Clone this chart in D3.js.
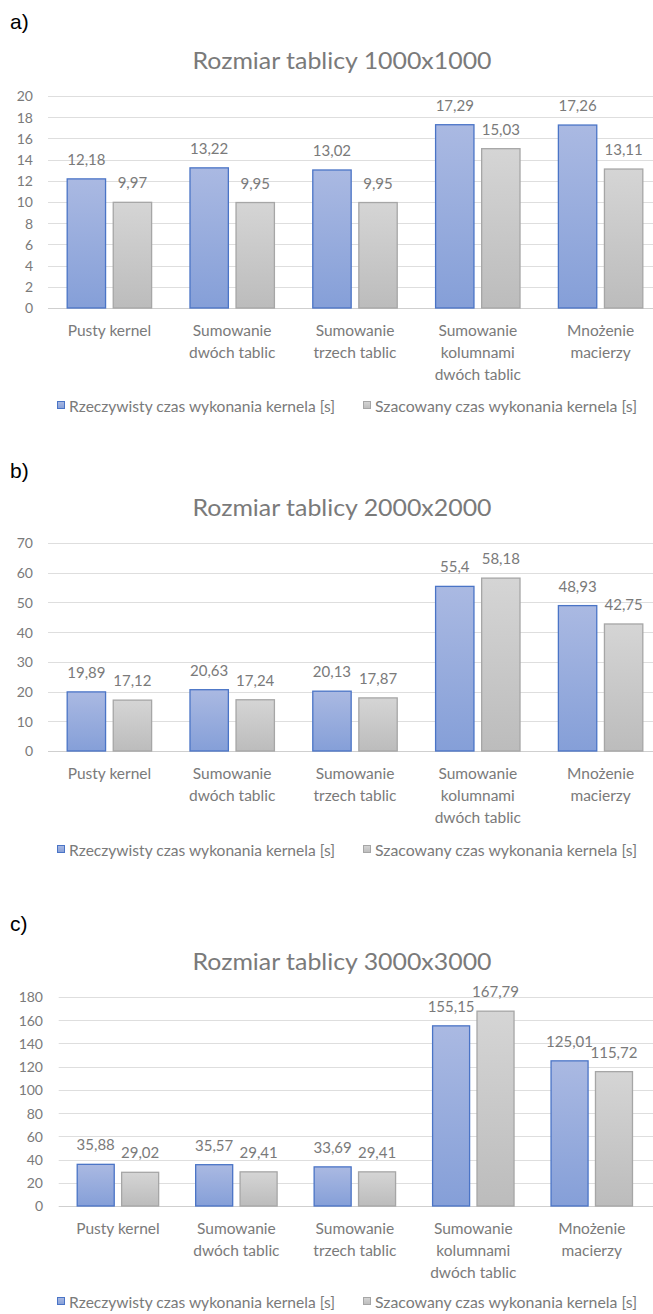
<!DOCTYPE html>
<html>
<head>
<meta charset="utf-8">
<script src="https://cdn.jsdelivr.net/npm/d3@7"></script>
<style>
  html, body { margin: 0; padding: 0; background: #fff; }
  svg { display: block; }
  .lbl { font-family: Lato, "Open Sans", sans-serif; fill: #7a7a7a; }
  .panel { font-family: "Liberation Sans Narrow", "Liberation Sans", Arial, sans-serif; fill: #000; }
</style>
</head>
<body>
<svg id="chart" width="653" height="1314"></svg>
<script>
// Kernel names (one line per array entry in the axis label)
const categories = [
  "Pusty kernel",
  "Sumowanie\ndwóch tablic",
  "Sumowanie\ntrzech tablic",
  "Sumowanie\nkolumnami\ndwóch tablic",
  "Mnożenie\nmacierzy"
];
const seriesNames = [
  "Rzeczywisty czas wykonania kernela [s]",
  "Szacowany czas wykonania kernela [s]"
];
const panelLetters = ["a)", "b)", "c)"];
const chartTitles = [
  "Rozmiar tablicy 1000x1000",
  "Rozmiar tablicy 2000x2000",
  "Rozmiar tablicy 3000x3000"
];

// Measured vs. estimated kernel times [s]
const real1000 = [12.18, 13.22, 13.02, 17.29, 17.26];
const est1000  = [9.97, 9.95, 9.95, 15.03, 13.11];
const real2000 = [19.89, 20.63, 20.13, 55.4, 48.93];
const est2000  = [17.12, 17.24, 17.87, 58.18, 42.75];
const real3000 = [35.88, 35.57, 33.69, 155.15, 125.01];
const est3000  = [29.02, 29.41, 29.41, 167.79, 115.72];

// Value axis ticks for each panel
const ticks1000 = [0, 2, 4, 6, 8, 10, 12, 14, 16, 18, 20];
const ticks2000 = [0, 10, 20, 30, 40, 50, 60, 70];
const ticks3000 = [0, 20, 40, 60, 80, 100, 120, 140, 160, 180];

const svg = d3.select("#chart");
const fmt = v => String(v).replace(".", ",");

// Vertical gradients for the two series
const defs = svg.append("defs");
function grad(id, top, bottom) {
  const g = defs.append("linearGradient").attr("id", id)
    .attr("x1", 0).attr("y1", 0).attr("x2", 0).attr("y2", 1);
  g.append("stop").attr("offset", "0%").attr("stop-color", top);
  g.append("stop").attr("offset", "100%").attr("stop-color", bottom);
}
grad("gBlue", "#aab9e2", "#859fd8");
grad("gGray", "#d5d5d5", "#bcbcbc");
const fills = ["url(#gBlue)", "url(#gGray)"];
const strokes = ["#4a74c6", "#a6a6a6"];

const panels = [
  { real: real1000, est: est1000, ticks: ticks1000, top: 0,   left: 48,   right: 662, yTop: 96,  yBot: 308,  tickX: 33, legDy: 104 },
  { real: real2000, est: est2000, ticks: ticks2000, top: 449, left: 48,   right: 662, yTop: 543, yBot: 751,  tickX: 33, legDy: 105 },
  { real: real3000, est: est3000, ticks: ticks3000, top: 902, left: 58.7, right: 651, yTop: 997, yBot: 1206, tickX: 43, legDy: 102 }
];

panels.forEach((p, i) => {
  const g = svg.append("g");

  // Panel letter and chart title
  g.append("text").attr("class", "panel")
    .attr("x", 10).attr("y", p.top + 29)
    .attr("font-size", 21).text(panelLetters[i]);
  g.append("text").attr("class", "lbl")
    .attr("x", 342).attr("y", p.yTop - 27)
    .attr("text-anchor", "middle").attr("font-size", 23)
    .attr("textLength", 299).attr("lengthAdjust", "spacingAndGlyphs")
    .text(chartTitles[i]);

  const y = d3.scaleLinear()
    .domain([0, d3.max(p.ticks)])
    .range([p.yBot, p.yTop]);

  const x0 = d3.scaleBand().domain(categories).range([p.left, p.right]).padding(0);
  const x1 = d3.scaleBand().domain(seriesNames)
    .range([0, x0.bandwidth()])
    .paddingInner(1 / 6).paddingOuter(5 / 12);

  // Tick labels
  const yAxis = d3.axisLeft(y).tickValues(p.ticks).tickSize(0).tickPadding(0);
  const ax = g.append("g").attr("transform", `translate(${p.tickX},0)`).call(yAxis);
  ax.select(".domain").remove();
  ax.selectAll("text").attr("class", "lbl").attr("font-size", 14)
    .attr("fill", null).attr("dy", "0.35em");
  ax.attr("font-family", null).attr("font-size", null);

  // Gridlines
  g.append("g").selectAll("line").data(p.ticks).join("line")
    .attr("x1", p.left).attr("x2", 653)
    .attr("y1", d => Math.round(y(d)) + 0.5).attr("y2", d => Math.round(y(d)) + 0.5)
    .attr("stroke", d => d === 0 ? "#cfcfcf" : "#dedede").attr("stroke-width", 1);

  // Bars
  const rows = categories.map((c, k) => [
    { cat: c, s: 0, v: p.real[k] },
    { cat: c, s: 1, v: p.est[k] }
  ]).flat();

  g.append("g").selectAll("rect").data(rows).join("rect")
    .attr("x", d => x0(d.cat) + x1(seriesNames[d.s]))
    .attr("y", d => y(d.v))
    .attr("width", x1.bandwidth())
    .attr("height", d => y(0) - y(d.v))
    .attr("fill", d => fills[d.s])
    .attr("stroke", d => strokes[d.s])
    .attr("stroke-width", 1.3);

  // Value labels
  g.append("g").selectAll("text").data(rows).join("text")
    .attr("class", "lbl")
    .attr("x", d => x0(d.cat) + x1(seriesNames[d.s]) + x1.bandwidth() / 2)
    .attr("y", d => y(d.v) - 14)
    .attr("text-anchor", "middle").attr("font-size", 15)
    .text(d => fmt(d.v));

  // Category labels (multi-line)
  const cl = g.append("g").selectAll("text").data(categories).join("text")
    .attr("class", "lbl")
    .attr("text-anchor", "middle").attr("font-size", 15.5)
    .attr("x", d => x0(d) + x0.bandwidth() / 2)
    .attr("y", p.yBot + 28);
  cl.selectAll("tspan").data(d => d.split("\n")).join("tspan")
    .attr("x", function () { return d3.select(this.parentNode).attr("x"); })
    .attr("dy", (d, j) => j === 0 ? 0 : 22)
    .text(d => d);

  // Legend
  const lx = [57, 363];
  const lw = [266, 262];
  const leg = g.append("g").selectAll("g").data(seriesNames).join("g")
    .attr("transform", (d, j) => `translate(${lx[j]},${p.yBot + p.legDy})`);
  leg.append("rect").attr("x", 0.5).attr("y", -10.5).attr("width", 7).attr("height", 7)
    .attr("fill", (d, j) => fills[j]).attr("stroke", (d, j) => strokes[j]).attr("stroke-width", 1);
  leg.append("text").attr("class", "lbl")
    .attr("x", 12).attr("y", 0).attr("font-size", 15)
    .attr("textLength", (d, j) => lw[j]).attr("lengthAdjust", "spacingAndGlyphs")
    .text(d => d);
});
</script>
</body>
</html>
